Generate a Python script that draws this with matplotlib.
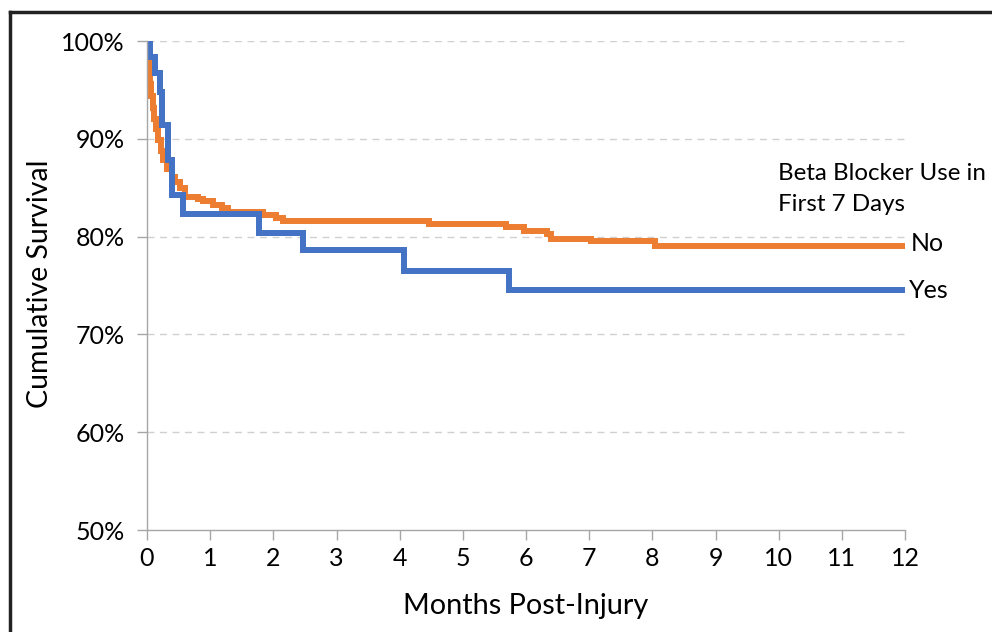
import matplotlib.pyplot as plt
from matplotlib.lines import Line2D

# Kaplan-Meier steps (months, % surviving)
no_months = [0, 0.01, 0.03, 0.05, 0.07, 0.09, 0.11, 0.14, 0.18, 0.22, 0.26, 0.32,
             0.39, 0.45, 0.52, 0.60, 0.80, 0.89, 1.05, 1.18, 1.28, 1.84, 2.05, 2.15,
             4.46, 5.69, 5.97, 6.33, 6.40, 7.03, 8.04, 12]
no_surv = [100, 98.5, 97.0, 95.6, 94.4, 93.2, 92.0, 91.0, 89.9, 88.8, 87.8, 86.9,
           86.1, 85.6, 85.0, 84.1, 83.8, 83.6, 83.2, 82.9, 82.5, 82.2, 81.9, 81.6,
           81.3, 80.95, 80.6, 80.3, 79.8, 79.5, 79.0, 79.0]

yes_months = [0, 0.04, 0.13, 0.20, 0.24, 0.34, 0.39, 0.57, 1.77, 2.47, 4.07, 5.73, 12]
yes_surv = [100, 98.4, 96.7, 94.8, 91.4, 87.8, 84.3, 82.3, 80.4, 78.6, 76.5, 74.5, 74.5]

x_ticks = list(range(0, 13))
y_ticks = [50, 60, 70, 80, 90, 100]
y_ticklabels = ['50%', '60%', '70%', '80%', '90%', '100%']

orange = '#ED7D31'
blue = '#4472C4'
axis_gray = '#A6A6A6'

plt.rcParams['font.family'] = ['Lato', 'DejaVu Sans']

W, H = 992, 632
fig = plt.figure(figsize=(W / 100, H / 100), dpi=100)
ax = fig.add_axes([147 / W, 1 - 530 / H, (905 - 147) / W, (530 - 41) / H])

ax.step(no_months, no_surv, where='post', color=orange, lw=4.3, solid_joinstyle='miter')
ax.step(yes_months, yes_surv, where='post', color=blue, lw=4.3, solid_joinstyle='miter')

ax.set_xlim(0, 12)
ax.set_ylim(50, 100)
ax.set_xticks(x_ticks)
ax.set_yticks(y_ticks)
ax.set_yticklabels(y_ticklabels)
ax.tick_params(axis='both', labelsize=18, colors=axis_gray, labelcolor='black',
               length=7, width=1)
ax.tick_params(axis='x', pad=5)
ax.tick_params(axis='y', pad=9)

for y in y_ticks[1:]:
    ax.axhline(y, color='#D0D0D0', lw=1, ls=(0, (5, 4)), zorder=0)

for side in ['top', 'right']:
    ax.spines[side].set_visible(False)
for side in ['left', 'bottom']:
    ax.spines[side].set_color(axis_gray)
    ax.spines[side].set_linewidth(1)

fig.text(40 / W, 1 - 284 / H, 'Cumulative Survival', rotation=90, fontsize=20.5,
         ha='center', va='center')
fig.text(526 / W, 1 - 606 / H, 'Months Post-Injury', fontsize=20.8,
         ha='center', va='center')

# legend-like labels; the heading is sized so it just fits inside the picture
fig.text(778 / W, 1 - 173 / H, 'Beta Blocker Use in', fontsize=17.4, va='center')
fig.text(778 / W, 1 - 205 / H, 'First 7 Days', fontsize=17.4, va='center')
fig.text(911 / W, 1 - 243 / H, 'No', fontsize=18, va='center')
fig.text(909 / W, 1 - 290 / H, 'Yes', fontsize=18, va='center')

# black frame around the picture (runs off the right and bottom edges)
fig.add_artist(Line2D([10 / W, 10 / W], [0, 1 - 12 / H], color='#222222', lw=2.5))
fig.add_artist(Line2D([10 / W, 1], [1 - 12 / H, 1 - 12 / H], color='#222222', lw=2.5))

fig.savefig('out.png', dpi=100)
